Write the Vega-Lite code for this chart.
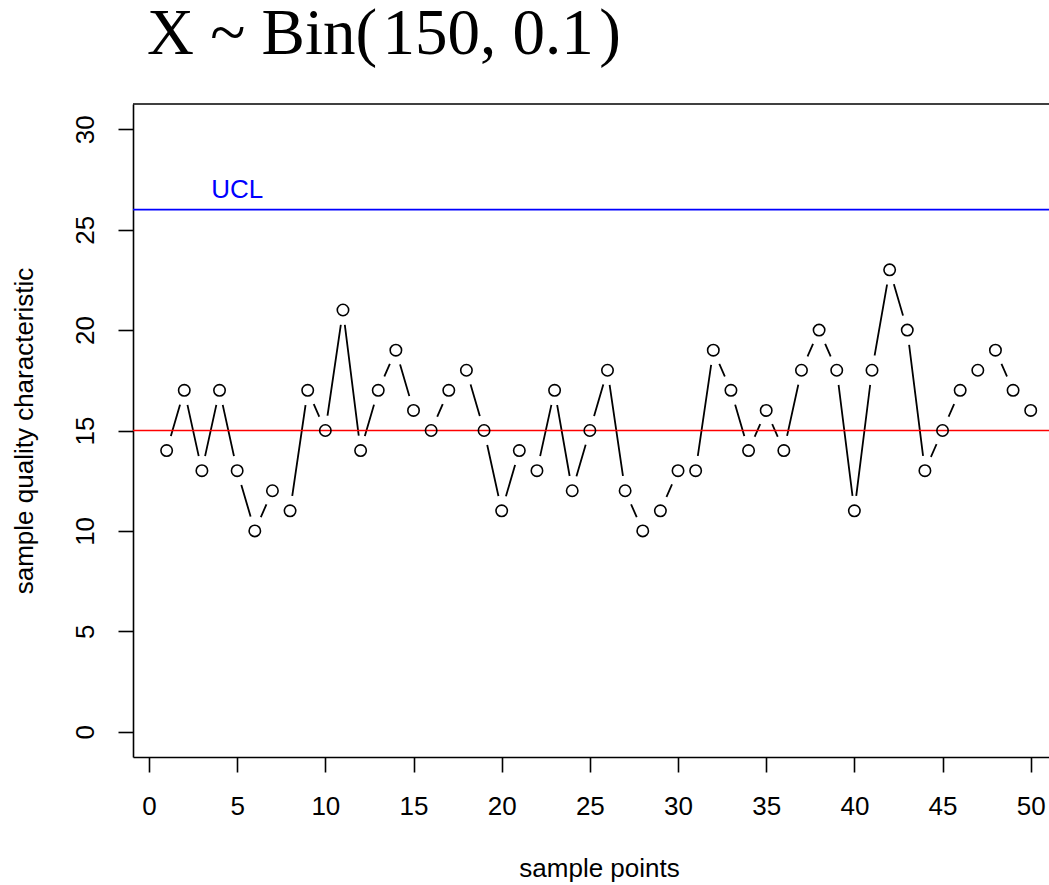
{
  "$schema": "https://vega.github.io/schema/vega-lite/v6.json",
  "width": 916,
  "height": 653,
  "autosize": {"type": "none"},
  "padding": {"left": 133, "top": 104, "right": 0, "bottom": 128},
  "background": "white",
  "title": {
    "text": "X ~ Bin(\u200a150, 0.1\u200a)",
    "font": "Liberation Serif",
    "fontSize": 65,
    "fontStyle": "normal",
    "fontWeight": "normal",
    "color": "#000000",
    "anchor": "start",
    "frame": "group",
    "dx": 14,
    "offset": -16,
    "baseline": "alphabetic"
  },
  "data": {
    "values": [
      {"sample": 1, "value": 14}, {"sample": 2, "value": 17}, {"sample": 3, "value": 13},
      {"sample": 4, "value": 17}, {"sample": 5, "value": 13}, {"sample": 6, "value": 10},
      {"sample": 7, "value": 12}, {"sample": 8, "value": 11}, {"sample": 9, "value": 17},
      {"sample": 10, "value": 15}, {"sample": 11, "value": 21}, {"sample": 12, "value": 14},
      {"sample": 13, "value": 17}, {"sample": 14, "value": 19}, {"sample": 15, "value": 16},
      {"sample": 16, "value": 15}, {"sample": 17, "value": 17}, {"sample": 18, "value": 18},
      {"sample": 19, "value": 15}, {"sample": 20, "value": 11}, {"sample": 21, "value": 14},
      {"sample": 22, "value": 13}, {"sample": 23, "value": 17}, {"sample": 24, "value": 12},
      {"sample": 25, "value": 15}, {"sample": 26, "value": 18}, {"sample": 27, "value": 12},
      {"sample": 28, "value": 10}, {"sample": 29, "value": 11}, {"sample": 30, "value": 13},
      {"sample": 31, "value": 13}, {"sample": 32, "value": 19}, {"sample": 33, "value": 17},
      {"sample": 34, "value": 14}, {"sample": 35, "value": 16}, {"sample": 36, "value": 14},
      {"sample": 37, "value": 18}, {"sample": 38, "value": 20}, {"sample": 39, "value": 18},
      {"sample": 40, "value": 11}, {"sample": 41, "value": 18}, {"sample": 42, "value": 23},
      {"sample": 43, "value": 20}, {"sample": 44, "value": 13}, {"sample": 45, "value": 15},
      {"sample": 46, "value": 17}, {"sample": 47, "value": 18}, {"sample": 48, "value": 19},
      {"sample": 49, "value": 17}, {"sample": 50, "value": 16}
    ]
  },
  "layer": [
    {
      "mark": {"type": "line", "color": "#000000", "strokeWidth": 1.8},
      "encoding": {
        "x": {
          "field": "sample",
          "type": "quantitative",
          "scale": {"domain": [-0.907, 51.037], "nice": false, "zero": false},
          "axis": {
            "values": [0, 5, 10, 15, 20, 25, 30, 35, 40, 45, 50],
            "grid": false,
            "domain": true,
            "domainColor": "#000000",
            "domainWidth": 1.6,
            "ticks": true,
            "tickSize": 15,
            "tickWidth": 1.6,
            "tickColor": "#000000",
            "labelFont": "Liberation Sans",
            "labelFontSize": 26,
            "labelColor": "#000000",
            "labelAngle": 0,
            "labelAlign": "center",
            "labelBaseline": "alphabetic",
            "labelPadding": 42,
            "labelFlush": false,
            "labelOverlap": false,
            "title": "sample points",
            "titleFont": "Liberation Sans",
            "titleFontSize": 26,
            "titleFontWeight": "normal",
            "titleColor": "#000000",
            "titleAlign": "center",
            "titleBaseline": "alphabetic",
            "titleX": 466,
            "titleY": 119
          }
        },
        "y": {
          "field": "value",
          "type": "quantitative",
          "scale": {"domain": [-1.26, 31.26], "nice": false, "zero": false},
          "axis": {
            "values": [0, 5, 10, 15, 20, 25, 30],
            "grid": false,
            "domain": true,
            "domainColor": "#000000",
            "domainWidth": 1.6,
            "ticks": true,
            "tickSize": 15,
            "tickWidth": 1.6,
            "tickColor": "#000000",
            "labelFont": "Liberation Sans",
            "labelFontSize": 26,
            "labelColor": "#000000",
            "labelAngle": 270,
            "labelAlign": "center",
            "labelBaseline": "alphabetic",
            "labelPadding": 25,
            "labelFlush": false,
            "labelOverlap": false,
            "title": "sample quality characteristic",
            "titleFont": "Liberation Sans",
            "titleFontSize": 26,
            "titleFontWeight": "normal",
            "titleColor": "#000000",
            "titleAngle": 270,
            "titleAlign": "center",
            "titleBaseline": "alphabetic",
            "titleX": -101,
            "titleY": 326.5
          }
        }
      }
    },
    {
      "mark": {"type": "point", "shape": "circle", "filled": true, "color": "#ffffff", "opacity": 1, "size": 900, "strokeWidth": 0},
      "encoding": {
        "x": {"field": "sample", "type": "quantitative"},
        "y": {"field": "value", "type": "quantitative"}
      }
    },
    {
      "data": {"values": [{}]},
      "mark": {"type": "rule", "color": "#000000", "strokeWidth": 1.6},
      "encoding": {"y": {"datum": 31.26, "type": "quantitative"}}
    },
    {
      "data": {"values": [{}]},
      "mark": {"type": "rule", "color": "#0000ff", "strokeWidth": 1.6},
      "encoding": {"y": {"datum": 26, "type": "quantitative"}}
    },
    {
      "data": {"values": [{}]},
      "mark": {"type": "rule", "color": "#ff0000", "strokeWidth": 1.6},
      "encoding": {"y": {"datum": 15, "type": "quantitative"}}
    },
    {
      "mark": {"type": "point", "shape": "circle", "filled": false, "color": "#000000", "opacity": 1, "size": 130, "strokeWidth": 1.6},
      "encoding": {
        "x": {"field": "sample", "type": "quantitative"},
        "y": {"field": "value", "type": "quantitative"}
      }
    },
    {
      "data": {"values": [{}]},
      "mark": {"type": "text", "text": "UCL", "color": "#0000ff", "font": "Liberation Sans", "fontSize": 26, "align": "center", "baseline": "middle"},
      "encoding": {
        "x": {"datum": 5, "type": "quantitative"},
        "y": {"datum": 27, "type": "quantitative"}
      }
    }
  ],
  "config": {"view": {"stroke": null}, "font": "Liberation Sans"}
}
